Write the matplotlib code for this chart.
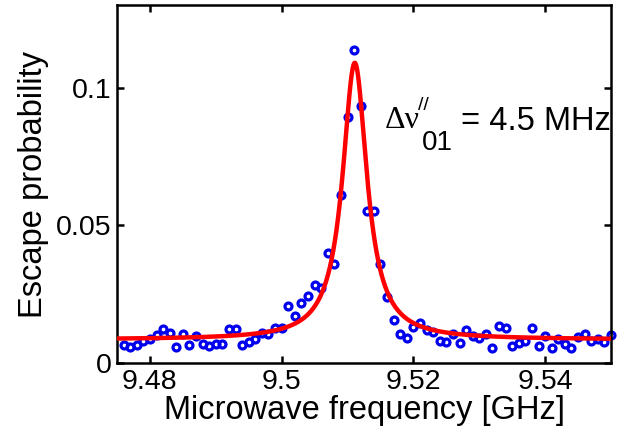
import numpy as np
import matplotlib
matplotlib.use("Agg")
import matplotlib.pyplot as plt

# measured escape probability vs microwave frequency
freq_ghz = [9.476, 9.477, 9.478, 9.479, 9.480, 9.481, 9.482, 9.483, 9.484, 9.485,
            9.486, 9.487, 9.488, 9.489, 9.490, 9.491, 9.492, 9.493, 9.494, 9.495,
            9.496, 9.497, 9.498, 9.499, 9.500, 9.501, 9.502, 9.503, 9.504, 9.505,
            9.506, 9.507, 9.508, 9.509, 9.510, 9.511, 9.512, 9.513, 9.514, 9.515,
            9.516, 9.517, 9.518, 9.519, 9.520, 9.521, 9.522, 9.523, 9.524, 9.525,
            9.526, 9.527, 9.528, 9.529, 9.530, 9.531, 9.532, 9.533, 9.534, 9.535,
            9.536, 9.537, 9.538, 9.539, 9.540, 9.541, 9.542, 9.543, 9.544, 9.545,
            9.546, 9.547, 9.548, 9.549, 9.550]
escape_prob = [0.0066, 0.0058, 0.0066, 0.0080, 0.0088, 0.0102, 0.0124, 0.0109, 0.0058, 0.0106,
               0.0066, 0.0099, 0.0069, 0.0062, 0.0069, 0.0069, 0.0124, 0.0124, 0.0066, 0.0077,
               0.0088, 0.0109, 0.0106, 0.0128, 0.0128, 0.0208, 0.0172, 0.0219, 0.0245, 0.0285,
               0.0274, 0.0398, 0.0361, 0.0609, 0.0894, 0.1135, 0.0934, 0.0551, 0.0551, 0.0358,
               0.0241, 0.0157, 0.0106, 0.0091, 0.0131, 0.0146, 0.0120, 0.0113, 0.0080, 0.0077,
               0.0106, 0.0073, 0.0120, 0.0099, 0.0091, 0.0106, 0.0055, 0.0135, 0.0128, 0.0062,
               0.0073, 0.0080, 0.0128, 0.0062, 0.0099, 0.0055, 0.0088, 0.0069, 0.0055, 0.0095,
               0.0106, 0.0080, 0.0088, 0.0077, 0.0102]

# Lorentzian fit parameters
fit_center = 9.5111   # GHz
fit_fwhm = 0.0045     # GHz (4.5 MHz)
fit_amp = 0.1005
fit_offset = 0.0085

xticks = [9.48, 9.5, 9.52, 9.54]
xticklabels = ["9.48", "9.5", "9.52", "9.54"]
yticks = [0, 0.05, 0.1]
yticklabels = ["0", "0.05", "0.1"]

plt.rcParams["font.family"] = ["Liberation Sans", "DejaVu Sans"]

fig = plt.figure(figsize=(6.21, 4.30), dpi=100)
ax = fig.add_axes([117 / 621, 1 - 363 / 430, 494 / 621, 358 / 430])

ax.plot(freq_ghz, escape_prob, "o", color="#0000ee", markerfacecolor="none",
        markersize=5.0, markeredgewidth=2.3, zorder=2, clip_on=False)

f = np.linspace(9.475, 9.55, 1500)
hw = fit_fwhm / 2
fit = fit_offset + fit_amp / (1 + ((f - fit_center) / hw) ** 2)
ax.plot(f, fit, color="red", linewidth=3.2, zorder=3)

ax.set_xlim(9.475, 9.55)
ax.set_ylim(0, 0.13)
ax.set_xticks(xticks)
ax.set_xticklabels(xticklabels)
ax.set_yticks(yticks)
ax.set_yticklabels(yticklabels)
ax.tick_params(direction="in", length=5, width=1.8, labelsize=20.5,
               top=True, right=True, pad=4)
for s in ax.spines.values():
    s.set_linewidth(1.8)

ax.set_xlabel("Microwave frequency [GHz]", fontsize=23.5, labelpad=0)
ax.set_ylabel("Escape probability", fontsize=23.5, labelpad=5)

# linewidth annotation
ax.text(0.5425, 0.656, "\u0394\u03bd", transform=ax.transAxes,
        fontsize=23, family="Liberation Serif")
ax.text(0.609, 0.707, "//", transform=ax.transAxes, fontsize=14)
ax.text(0.617, 0.595, "01", transform=ax.transAxes, fontsize=20)
ax.text(0.696, 0.651, "= 4.5 MHz", transform=ax.transAxes, fontsize=23.5)

fig.savefig("out.png", dpi=100)
